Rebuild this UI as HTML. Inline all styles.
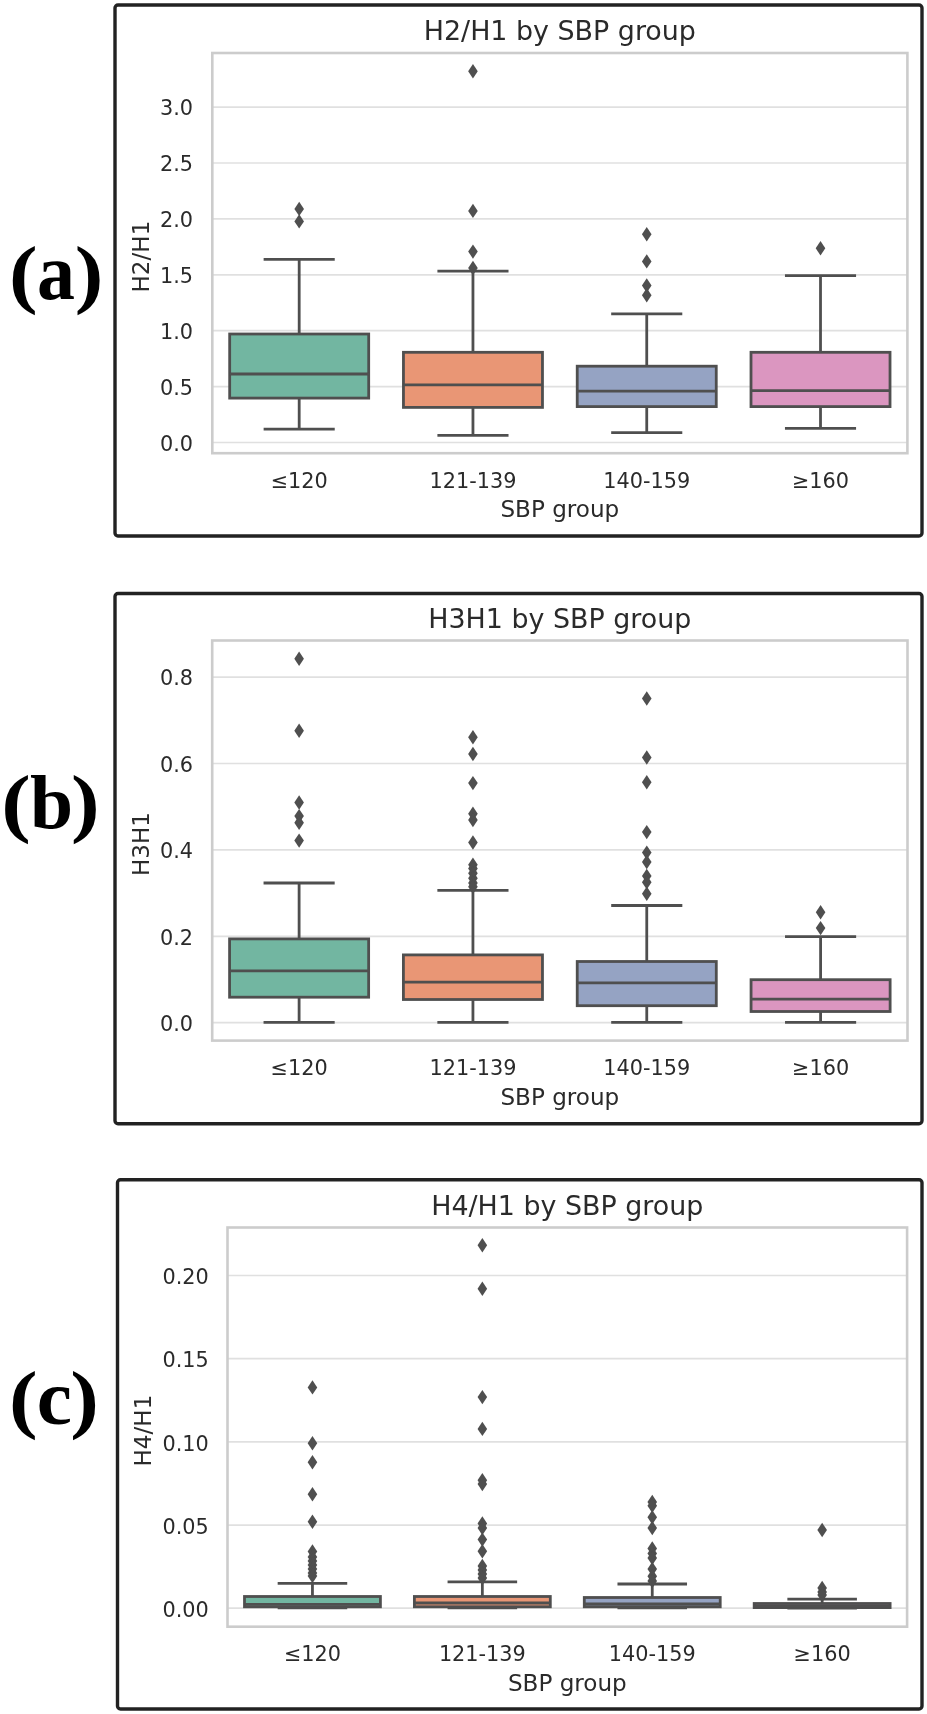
<!DOCTYPE html>
<html lang="en"><head><meta charset="utf-8"><title>Harmonic ratios by SBP group</title>
<style>
html,body{margin:0;padding:0;background:#fff;}
body{width:927px;height:1714px;overflow:hidden;}
svg{display:block;font-family:"DejaVu Sans","Liberation Sans",sans-serif;}
</style></head>
<body>
<svg width="927" height="1714" viewBox="0 0 927 1714">
<rect width="927" height="1714" fill="#fff"/>
<defs><filter id="soft" x="0" y="0" width="100%" height="100%" filterUnits="userSpaceOnUse"><feGaussianBlur stdDeviation="0.6"/></filter></defs>
<g id="fig" filter="url(#soft)">
<rect x="115" y="5" width="807" height="531" rx="3" ry="3" fill="#fff" stroke="#222" stroke-width="3.4"/>
<line x1="212.3" x2="907.4" y1="442.50" y2="442.50" stroke="#e0e0e0" stroke-width="1.7"/>
<line x1="212.3" x2="907.4" y1="386.60" y2="386.60" stroke="#e0e0e0" stroke-width="1.7"/>
<line x1="212.3" x2="907.4" y1="330.70" y2="330.70" stroke="#e0e0e0" stroke-width="1.7"/>
<line x1="212.3" x2="907.4" y1="274.80" y2="274.80" stroke="#e0e0e0" stroke-width="1.7"/>
<line x1="212.3" x2="907.4" y1="218.90" y2="218.90" stroke="#e0e0e0" stroke-width="1.7"/>
<line x1="212.3" x2="907.4" y1="163.00" y2="163.00" stroke="#e0e0e0" stroke-width="1.7"/>
<line x1="212.3" x2="907.4" y1="107.10" y2="107.10" stroke="#e0e0e0" stroke-width="1.7"/>
<g stroke="#4f4f4f" stroke-width="2.8" stroke-linecap="butt">
<line x1="299.19" x2="299.19" y1="259.40000000000003" y2="334.0"/>
<line x1="299.19" x2="299.19" y1="398.1" y2="429.1"/>
<line x1="263.63" x2="334.74" y1="259.40000000000003" y2="259.40000000000003"/>
<line x1="263.63" x2="334.74" y1="429.1" y2="429.1"/>
<rect x="229.68" y="334.0" width="139.02" height="64.10" fill="#72b6a1"/>
<line x1="229.68" x2="368.70" y1="374.0" y2="374.0"/>
</g>
<path d="M299.19 201.70L303.99 208.90L299.19 216.10L294.39 208.90Z" fill="#4f4f4f"/>
<path d="M299.19 214.20L303.99 221.40L299.19 228.60L294.39 221.40Z" fill="#4f4f4f"/>
<g stroke="#4f4f4f" stroke-width="2.8" stroke-linecap="butt">
<line x1="472.96" x2="472.96" y1="271.1" y2="352.3"/>
<line x1="472.96" x2="472.96" y1="407.40000000000003" y2="435.40000000000003"/>
<line x1="437.41" x2="508.52" y1="271.1" y2="271.1"/>
<line x1="437.41" x2="508.52" y1="435.40000000000003" y2="435.40000000000003"/>
<rect x="403.45" y="352.3" width="139.02" height="55.10" fill="#e99675"/>
<line x1="403.45" x2="542.47" y1="384.90000000000003" y2="384.90000000000003"/>
</g>
<path d="M472.96 64.00L477.76 71.20L472.96 78.40L468.16 71.20Z" fill="#4f4f4f"/>
<path d="M472.96 203.70L477.76 210.90L472.96 218.10L468.16 210.90Z" fill="#4f4f4f"/>
<path d="M472.96 244.40L477.76 251.60L472.96 258.80L468.16 251.60Z" fill="#4f4f4f"/>
<path d="M472.96 260.80L477.76 268.00L472.96 275.20L468.16 268.00Z" fill="#4f4f4f"/>
<g stroke="#4f4f4f" stroke-width="2.8" stroke-linecap="butt">
<line x1="646.74" x2="646.74" y1="313.8" y2="366.20000000000005"/>
<line x1="646.74" x2="646.74" y1="406.6" y2="432.6"/>
<line x1="611.18" x2="682.29" y1="313.8" y2="313.8"/>
<line x1="611.18" x2="682.29" y1="432.6" y2="432.6"/>
<rect x="577.23" y="366.20000000000005" width="139.02" height="40.40" fill="#95a3c3"/>
<line x1="577.23" x2="716.25" y1="391.1" y2="391.1"/>
</g>
<path d="M646.74 227.00L651.54 234.20L646.74 241.40L641.94 234.20Z" fill="#4f4f4f"/>
<path d="M646.74 254.20L651.54 261.40L646.74 268.60L641.94 261.40Z" fill="#4f4f4f"/>
<path d="M646.74 278.30L651.54 285.50L646.74 292.70L641.94 285.50Z" fill="#4f4f4f"/>
<path d="M646.74 288.00L651.54 295.20L646.74 302.40L641.94 295.20Z" fill="#4f4f4f"/>
<g stroke="#4f4f4f" stroke-width="2.8" stroke-linecap="butt">
<line x1="820.51" x2="820.51" y1="275.70000000000005" y2="352.3"/>
<line x1="820.51" x2="820.51" y1="406.6" y2="428.40000000000003"/>
<line x1="784.96" x2="856.07" y1="275.70000000000005" y2="275.70000000000005"/>
<line x1="784.96" x2="856.07" y1="428.40000000000003" y2="428.40000000000003"/>
<rect x="751.00" y="352.3" width="139.02" height="54.30" fill="#db96c0"/>
<line x1="751.00" x2="890.02" y1="390.70000000000005" y2="390.70000000000005"/>
</g>
<path d="M820.51 241.00L825.31 248.20L820.51 255.40L815.71 248.20Z" fill="#4f4f4f"/>
<rect x="212.3" y="53" width="695.0999999999999" height="400.2" fill="none" stroke="#cccccc" stroke-width="2.6"/>
<text x="193.10000000000002" y="450.70" text-anchor="end" font-size="20.8" fill="#2b2b2b">0.0</text>
<text x="193.10000000000002" y="394.80" text-anchor="end" font-size="20.8" fill="#2b2b2b">0.5</text>
<text x="193.10000000000002" y="338.90" text-anchor="end" font-size="20.8" fill="#2b2b2b">1.0</text>
<text x="193.10000000000002" y="283.00" text-anchor="end" font-size="20.8" fill="#2b2b2b">1.5</text>
<text x="193.10000000000002" y="227.10" text-anchor="end" font-size="20.8" fill="#2b2b2b">2.0</text>
<text x="193.10000000000002" y="171.20" text-anchor="end" font-size="20.8" fill="#2b2b2b">2.5</text>
<text x="193.10000000000002" y="115.30" text-anchor="end" font-size="20.8" fill="#2b2b2b">3.0</text>
<text x="299.19" y="487.8" text-anchor="middle" font-size="20.8" fill="#2b2b2b">≤120</text>
<text x="472.96" y="487.8" text-anchor="middle" font-size="20.8" fill="#2b2b2b">121-139</text>
<text x="646.74" y="487.8" text-anchor="middle" font-size="20.8" fill="#2b2b2b">140-159</text>
<text x="820.51" y="487.8" text-anchor="middle" font-size="20.8" fill="#2b2b2b">≥160</text>
<text x="559.85" y="517.2" text-anchor="middle" font-size="23.1" fill="#2b2b2b">SBP group</text>
<text x="559.85" y="40" text-anchor="middle" font-size="26.9" fill="#2b2b2b">H2/H1 by SBP group</text>
<text transform="translate(148.7 256.60) rotate(-90)" text-anchor="middle" font-size="23.1" fill="#2b2b2b">H2/H1</text>
<text transform="translate(9.12 298.51) scale(1.0817 0.9621)" font-family='"Liberation Serif","DejaVu Serif",serif' font-weight="bold" font-size="79.5" fill="#000">(</text>
<text transform="translate(36.97 299.15) scale(0.9552 1.0045)" font-family='"Liberation Serif","DejaVu Serif",serif' font-weight="bold" font-size="79.5" fill="#000">a</text>
<text transform="translate(74.85 298.51) scale(1.0817 0.9621)" font-family='"Liberation Serif","DejaVu Serif",serif' font-weight="bold" font-size="79.5" fill="#000">)</text>
<rect x="115" y="593.5" width="807" height="530.2" rx="3" ry="3" fill="#fff" stroke="#222" stroke-width="3.4"/>
<line x1="212.2" x2="907.5" y1="1022.70" y2="1022.70" stroke="#e0e0e0" stroke-width="1.7"/>
<line x1="212.2" x2="907.5" y1="936.30" y2="936.30" stroke="#e0e0e0" stroke-width="1.7"/>
<line x1="212.2" x2="907.5" y1="849.90" y2="849.90" stroke="#e0e0e0" stroke-width="1.7"/>
<line x1="212.2" x2="907.5" y1="763.50" y2="763.50" stroke="#e0e0e0" stroke-width="1.7"/>
<line x1="212.2" x2="907.5" y1="677.10" y2="677.10" stroke="#e0e0e0" stroke-width="1.7"/>
<g stroke="#4f4f4f" stroke-width="2.8" stroke-linecap="butt">
<line x1="299.11" x2="299.11" y1="883.0" y2="938.9"/>
<line x1="299.11" x2="299.11" y1="997.2" y2="1022.4"/>
<line x1="263.55" x2="334.68" y1="883.0" y2="883.0"/>
<line x1="263.55" x2="334.68" y1="1022.4" y2="1022.4"/>
<rect x="229.58" y="938.9" width="139.06" height="58.30" fill="#72b6a1"/>
<line x1="229.58" x2="368.64" y1="970.8" y2="970.8"/>
</g>
<path d="M299.11 651.60L303.91 658.80L299.11 666.00L294.31 658.80Z" fill="#4f4f4f"/>
<path d="M299.11 723.50L303.91 730.70L299.11 737.90L294.31 730.70Z" fill="#4f4f4f"/>
<path d="M299.11 795.30L303.91 802.50L299.11 809.70L294.31 802.50Z" fill="#4f4f4f"/>
<path d="M299.11 808.90L303.91 816.10L299.11 823.30L294.31 816.10Z" fill="#4f4f4f"/>
<path d="M299.11 815.50L303.91 822.70L299.11 829.90L294.31 822.70Z" fill="#4f4f4f"/>
<path d="M299.11 833.40L303.91 840.60L299.11 847.80L294.31 840.60Z" fill="#4f4f4f"/>
<g stroke="#4f4f4f" stroke-width="2.8" stroke-linecap="butt">
<line x1="472.94" x2="472.94" y1="890.4" y2="954.9"/>
<line x1="472.94" x2="472.94" y1="999.5" y2="1022.4"/>
<line x1="437.37" x2="508.50" y1="890.4" y2="890.4"/>
<line x1="437.37" x2="508.50" y1="1022.4" y2="1022.4"/>
<rect x="403.41" y="954.9" width="139.06" height="44.60" fill="#e99675"/>
<line x1="403.41" x2="542.47" y1="982.1" y2="982.1"/>
</g>
<path d="M472.94 730.10L477.74 737.30L472.94 744.50L468.14 737.30Z" fill="#4f4f4f"/>
<path d="M472.94 746.80L477.74 754.00L472.94 761.20L468.14 754.00Z" fill="#4f4f4f"/>
<path d="M472.94 775.90L477.74 783.10L472.94 790.30L468.14 783.10Z" fill="#4f4f4f"/>
<path d="M472.94 806.60L477.74 813.80L472.94 821.00L468.14 813.80Z" fill="#4f4f4f"/>
<path d="M472.94 812.80L477.74 820.00L472.94 827.20L468.14 820.00Z" fill="#4f4f4f"/>
<path d="M472.94 835.30L477.74 842.50L472.94 849.70L468.14 842.50Z" fill="#4f4f4f"/>
<path d="M472.94 857.50L477.74 864.70L472.94 871.90L468.14 864.70Z" fill="#4f4f4f"/>
<path d="M472.94 861.30L477.74 868.50L472.94 875.70L468.14 868.50Z" fill="#4f4f4f"/>
<path d="M472.94 866.00L477.74 873.20L472.94 880.40L468.14 873.20Z" fill="#4f4f4f"/>
<path d="M472.94 871.10L477.74 878.30L472.94 885.50L468.14 878.30Z" fill="#4f4f4f"/>
<path d="M472.94 875.70L477.74 882.90L472.94 890.10L468.14 882.90Z" fill="#4f4f4f"/>
<path d="M472.94 879.60L477.74 886.80L472.94 894.00L468.14 886.80Z" fill="#4f4f4f"/>
<g stroke="#4f4f4f" stroke-width="2.8" stroke-linecap="butt">
<line x1="646.76" x2="646.76" y1="905.5" y2="961.5"/>
<line x1="646.76" x2="646.76" y1="1005.7" y2="1022.4"/>
<line x1="611.20" x2="682.33" y1="905.5" y2="905.5"/>
<line x1="611.20" x2="682.33" y1="1022.4" y2="1022.4"/>
<rect x="577.23" y="961.5" width="139.06" height="44.20" fill="#95a3c3"/>
<line x1="577.23" x2="716.29" y1="982.8" y2="982.8"/>
</g>
<path d="M646.76 691.30L651.56 698.50L646.76 705.70L641.96 698.50Z" fill="#4f4f4f"/>
<path d="M646.76 750.30L651.56 757.50L646.76 764.70L641.96 757.50Z" fill="#4f4f4f"/>
<path d="M646.76 775.10L651.56 782.30L646.76 789.50L641.96 782.30Z" fill="#4f4f4f"/>
<path d="M646.76 824.90L651.56 832.10L646.76 839.30L641.96 832.10Z" fill="#4f4f4f"/>
<path d="M646.76 845.40L651.56 852.60L646.76 859.80L641.96 852.60Z" fill="#4f4f4f"/>
<path d="M646.76 854.80L651.56 862.00L646.76 869.20L641.96 862.00Z" fill="#4f4f4f"/>
<path d="M646.76 868.70L651.56 875.90L646.76 883.10L641.96 875.90Z" fill="#4f4f4f"/>
<path d="M646.76 875.00L651.56 882.20L646.76 889.40L641.96 882.20Z" fill="#4f4f4f"/>
<path d="M646.76 886.60L651.56 893.80L646.76 901.00L641.96 893.80Z" fill="#4f4f4f"/>
<g stroke="#4f4f4f" stroke-width="2.8" stroke-linecap="butt">
<line x1="820.59" x2="820.59" y1="936.6" y2="979.7"/>
<line x1="820.59" x2="820.59" y1="1011.5" y2="1022.4"/>
<line x1="785.02" x2="856.15" y1="936.6" y2="936.6"/>
<line x1="785.02" x2="856.15" y1="1022.4" y2="1022.4"/>
<rect x="751.06" y="979.7" width="139.06" height="31.80" fill="#db96c0"/>
<line x1="751.06" x2="890.12" y1="999.1" y2="999.1"/>
</g>
<path d="M820.59 905.00L825.39 912.20L820.59 919.40L815.79 912.20Z" fill="#4f4f4f"/>
<path d="M820.59 920.90L825.39 928.10L820.59 935.30L815.79 928.10Z" fill="#4f4f4f"/>
<rect x="212.2" y="640.5" width="695.3" height="400.0999999999999" fill="none" stroke="#cccccc" stroke-width="2.6"/>
<text x="193.0" y="1030.90" text-anchor="end" font-size="20.8" fill="#2b2b2b">0.0</text>
<text x="193.0" y="944.50" text-anchor="end" font-size="20.8" fill="#2b2b2b">0.2</text>
<text x="193.0" y="858.10" text-anchor="end" font-size="20.8" fill="#2b2b2b">0.4</text>
<text x="193.0" y="771.70" text-anchor="end" font-size="20.8" fill="#2b2b2b">0.6</text>
<text x="193.0" y="685.30" text-anchor="end" font-size="20.8" fill="#2b2b2b">0.8</text>
<text x="299.11" y="1075.1999999999998" text-anchor="middle" font-size="20.8" fill="#2b2b2b">≤120</text>
<text x="472.94" y="1075.1999999999998" text-anchor="middle" font-size="20.8" fill="#2b2b2b">121-139</text>
<text x="646.76" y="1075.1999999999998" text-anchor="middle" font-size="20.8" fill="#2b2b2b">140-159</text>
<text x="820.59" y="1075.1999999999998" text-anchor="middle" font-size="20.8" fill="#2b2b2b">≥160</text>
<text x="559.85" y="1104.6" text-anchor="middle" font-size="23.1" fill="#2b2b2b">SBP group</text>
<text x="559.85" y="627.5" text-anchor="middle" font-size="26.9" fill="#2b2b2b">H3H1 by SBP group</text>
<text transform="translate(148.7 844.05) rotate(-90)" text-anchor="middle" font-size="23.1" fill="#2b2b2b">H3H1</text>
<text transform="translate(1.20 827.75) scale(1.1159 0.9538)" font-family='"Liberation Serif","DejaVu Serif",serif' font-weight="bold" font-size="79.5" fill="#000">(</text>
<text transform="translate(29.99 828.24) scale(0.9753 0.9505)" font-family='"Liberation Serif","DejaVu Serif",serif' font-weight="bold" font-size="79.5" fill="#000">b</text>
<text transform="translate(70.95 827.75) scale(1.0817 0.9538)" font-family='"Liberation Serif","DejaVu Serif",serif' font-weight="bold" font-size="79.5" fill="#000">)</text>
<rect x="117.5" y="1179.7" width="804.5" height="529.3" rx="3" ry="3" fill="#fff" stroke="#222" stroke-width="3.4"/>
<line x1="227.5" x2="907.1" y1="1608.20" y2="1608.20" stroke="#e0e0e0" stroke-width="1.7"/>
<line x1="227.5" x2="907.1" y1="1525.03" y2="1525.03" stroke="#e0e0e0" stroke-width="1.7"/>
<line x1="227.5" x2="907.1" y1="1441.85" y2="1441.85" stroke="#e0e0e0" stroke-width="1.7"/>
<line x1="227.5" x2="907.1" y1="1358.68" y2="1358.68" stroke="#e0e0e0" stroke-width="1.7"/>
<line x1="227.5" x2="907.1" y1="1275.50" y2="1275.50" stroke="#e0e0e0" stroke-width="1.7"/>
<g stroke="#4f4f4f" stroke-width="2.8" stroke-linecap="butt">
<line x1="312.45" x2="312.45" y1="1583.3" y2="1596.5"/>
<line x1="312.45" x2="312.45" y1="1606.8" y2="1607.9"/>
<line x1="277.67" x2="347.23" y1="1583.3" y2="1583.3"/>
<line x1="277.67" x2="347.23" y1="1607.9" y2="1607.9"/>
<rect x="244.49" y="1596.5" width="135.92" height="10.30" fill="#72b6a1"/>
<line x1="244.49" x2="380.41" y1="1604.3" y2="1604.3"/>
</g>
<path d="M312.45 1380.20L317.25 1387.40L312.45 1394.60L307.65 1387.40Z" fill="#4f4f4f"/>
<path d="M312.45 1436.10L317.25 1443.30L312.45 1450.50L307.65 1443.30Z" fill="#4f4f4f"/>
<path d="M312.45 1455.10L317.25 1462.30L312.45 1469.50L307.65 1462.30Z" fill="#4f4f4f"/>
<path d="M312.45 1487.10L317.25 1494.30L312.45 1501.50L307.65 1494.30Z" fill="#4f4f4f"/>
<path d="M312.45 1514.60L317.25 1521.80L312.45 1529.00L307.65 1521.80Z" fill="#4f4f4f"/>
<path d="M312.45 1544.30L317.25 1551.50L312.45 1558.70L307.65 1551.50Z" fill="#4f4f4f"/>
<path d="M312.45 1549.80L317.25 1557.00L312.45 1564.20L307.65 1557.00Z" fill="#4f4f4f"/>
<path d="M312.45 1553.80L317.25 1561.00L312.45 1568.20L307.65 1561.00Z" fill="#4f4f4f"/>
<path d="M312.45 1557.80L317.25 1565.00L312.45 1572.20L307.65 1565.00Z" fill="#4f4f4f"/>
<path d="M312.45 1561.80L317.25 1569.00L312.45 1576.20L307.65 1569.00Z" fill="#4f4f4f"/>
<path d="M312.45 1565.80L317.25 1573.00L312.45 1580.20L307.65 1573.00Z" fill="#4f4f4f"/>
<path d="M312.45 1568.80L317.25 1576.00L312.45 1583.20L307.65 1576.00Z" fill="#4f4f4f"/>
<g stroke="#4f4f4f" stroke-width="2.8" stroke-linecap="butt">
<line x1="482.35" x2="482.35" y1="1581.8" y2="1596.5"/>
<line x1="482.35" x2="482.35" y1="1606.8" y2="1607.9"/>
<line x1="447.57" x2="517.13" y1="1581.8" y2="1581.8"/>
<line x1="447.57" x2="517.13" y1="1607.9" y2="1607.9"/>
<rect x="414.39" y="1596.5" width="135.92" height="10.30" fill="#e99675"/>
<line x1="414.39" x2="550.31" y1="1603" y2="1603"/>
</g>
<path d="M482.35 1238.00L487.15 1245.20L482.35 1252.40L477.55 1245.20Z" fill="#4f4f4f"/>
<path d="M482.35 1281.50L487.15 1288.70L482.35 1295.90L477.55 1288.70Z" fill="#4f4f4f"/>
<path d="M482.35 1389.90L487.15 1397.10L482.35 1404.30L477.55 1397.10Z" fill="#4f4f4f"/>
<path d="M482.35 1421.70L487.15 1428.90L482.35 1436.10L477.55 1428.90Z" fill="#4f4f4f"/>
<path d="M482.35 1473.00L487.15 1480.20L482.35 1487.40L477.55 1480.20Z" fill="#4f4f4f"/>
<path d="M482.35 1476.90L487.15 1484.10L482.35 1491.30L477.55 1484.10Z" fill="#4f4f4f"/>
<path d="M482.35 1516.30L487.15 1523.50L482.35 1530.70L477.55 1523.50Z" fill="#4f4f4f"/>
<path d="M482.35 1520.80L487.15 1528.00L482.35 1535.20L477.55 1528.00Z" fill="#4f4f4f"/>
<path d="M482.35 1532.40L487.15 1539.60L482.35 1546.80L477.55 1539.60Z" fill="#4f4f4f"/>
<path d="M482.35 1544.00L487.15 1551.20L482.35 1558.40L477.55 1551.20Z" fill="#4f4f4f"/>
<path d="M482.35 1558.80L487.15 1566.00L482.35 1573.20L477.55 1566.00Z" fill="#4f4f4f"/>
<path d="M482.35 1562.80L487.15 1570.00L482.35 1577.20L477.55 1570.00Z" fill="#4f4f4f"/>
<path d="M482.35 1566.80L487.15 1574.00L482.35 1581.20L477.55 1574.00Z" fill="#4f4f4f"/>
<path d="M482.35 1570.80L487.15 1578.00L482.35 1585.20L477.55 1578.00Z" fill="#4f4f4f"/>
<g stroke="#4f4f4f" stroke-width="2.8" stroke-linecap="butt">
<line x1="652.25" x2="652.25" y1="1584" y2="1597.5"/>
<line x1="652.25" x2="652.25" y1="1606.8" y2="1607.9"/>
<line x1="617.47" x2="687.03" y1="1584" y2="1584"/>
<line x1="617.47" x2="687.03" y1="1607.9" y2="1607.9"/>
<rect x="584.29" y="1597.5" width="135.92" height="9.30" fill="#95a3c3"/>
<line x1="584.29" x2="720.21" y1="1604" y2="1604"/>
</g>
<path d="M652.25 1494.80L657.05 1502.00L652.25 1509.20L647.45 1502.00Z" fill="#4f4f4f"/>
<path d="M652.25 1498.50L657.05 1505.70L652.25 1512.90L647.45 1505.70Z" fill="#4f4f4f"/>
<path d="M652.25 1510.00L657.05 1517.20L652.25 1524.40L647.45 1517.20Z" fill="#4f4f4f"/>
<path d="M652.25 1520.80L657.05 1528.00L652.25 1535.20L647.45 1528.00Z" fill="#4f4f4f"/>
<path d="M652.25 1541.30L657.05 1548.50L652.25 1555.70L647.45 1548.50Z" fill="#4f4f4f"/>
<path d="M652.25 1546.20L657.05 1553.40L652.25 1560.60L647.45 1553.40Z" fill="#4f4f4f"/>
<path d="M652.25 1550.80L657.05 1558.00L652.25 1565.20L647.45 1558.00Z" fill="#4f4f4f"/>
<path d="M652.25 1561.80L657.05 1569.00L652.25 1576.20L647.45 1569.00Z" fill="#4f4f4f"/>
<path d="M652.25 1569.10L657.05 1576.30L652.25 1583.50L647.45 1576.30Z" fill="#4f4f4f"/>
<path d="M652.25 1573.80L657.05 1581.00L652.25 1588.20L647.45 1581.00Z" fill="#4f4f4f"/>
<g stroke="#4f4f4f" stroke-width="2.8" stroke-linecap="butt">
<line x1="822.15" x2="822.15" y1="1599.2" y2="1603.5"/>
<line x1="822.15" x2="822.15" y1="1607.6" y2="1608"/>
<line x1="787.37" x2="856.93" y1="1599.2" y2="1599.2"/>
<line x1="787.37" x2="856.93" y1="1608" y2="1608"/>
<rect x="754.19" y="1603.5" width="135.92" height="4.10" fill="#db96c0"/>
<line x1="754.19" x2="890.11" y1="1606" y2="1606"/>
</g>
<path d="M822.15 1522.80L826.95 1530.00L822.15 1537.20L817.35 1530.00Z" fill="#4f4f4f"/>
<path d="M822.15 1580.80L826.95 1588.00L822.15 1595.20L817.35 1588.00Z" fill="#4f4f4f"/>
<path d="M822.15 1584.80L826.95 1592.00L822.15 1599.20L817.35 1592.00Z" fill="#4f4f4f"/>
<path d="M822.15 1587.80L826.95 1595.00L822.15 1602.20L817.35 1595.00Z" fill="#4f4f4f"/>
<rect x="227.5" y="1227.5" width="679.6" height="399.20000000000005" fill="none" stroke="#cccccc" stroke-width="2.6"/>
<text x="208.8" y="1616.90" text-anchor="end" font-size="20.8" fill="#2b2b2b">0.00</text>
<text x="208.8" y="1533.73" text-anchor="end" font-size="20.8" fill="#2b2b2b">0.05</text>
<text x="208.8" y="1450.55" text-anchor="end" font-size="20.8" fill="#2b2b2b">0.10</text>
<text x="208.8" y="1367.38" text-anchor="end" font-size="20.8" fill="#2b2b2b">0.15</text>
<text x="208.8" y="1284.20" text-anchor="end" font-size="20.8" fill="#2b2b2b">0.20</text>
<text x="312.45" y="1661.3" text-anchor="middle" font-size="20.8" fill="#2b2b2b">≤120</text>
<text x="482.35" y="1661.3" text-anchor="middle" font-size="20.8" fill="#2b2b2b">121-139</text>
<text x="652.25" y="1661.3" text-anchor="middle" font-size="20.8" fill="#2b2b2b">140-159</text>
<text x="822.15" y="1661.3" text-anchor="middle" font-size="20.8" fill="#2b2b2b">≥160</text>
<text x="567.30" y="1690.7" text-anchor="middle" font-size="23.1" fill="#2b2b2b">SBP group</text>
<text x="567.30" y="1214.5" text-anchor="middle" font-size="26.9" fill="#2b2b2b">H4/H1 by SBP group</text>
<text transform="translate(150.5 1430.60) rotate(-90)" text-anchor="middle" font-size="23.1" fill="#2b2b2b">H4/H1</text>
<text transform="translate(9.12 1424.01) scale(1.0817 0.9621)" font-family='"Liberation Serif","DejaVu Serif",serif' font-weight="bold" font-size="79.5" fill="#000">(</text>
<text transform="translate(36.71 1424.10) scale(0.9965 0.9853)" font-family='"Liberation Serif","DejaVu Serif",serif' font-weight="bold" font-size="79.5" fill="#000">c</text>
<text transform="translate(70.35 1424.01) scale(1.0817 0.9621)" font-family='"Liberation Serif","DejaVu Serif",serif' font-weight="bold" font-size="79.5" fill="#000">)</text>
</g>
</svg>
</body></html>
